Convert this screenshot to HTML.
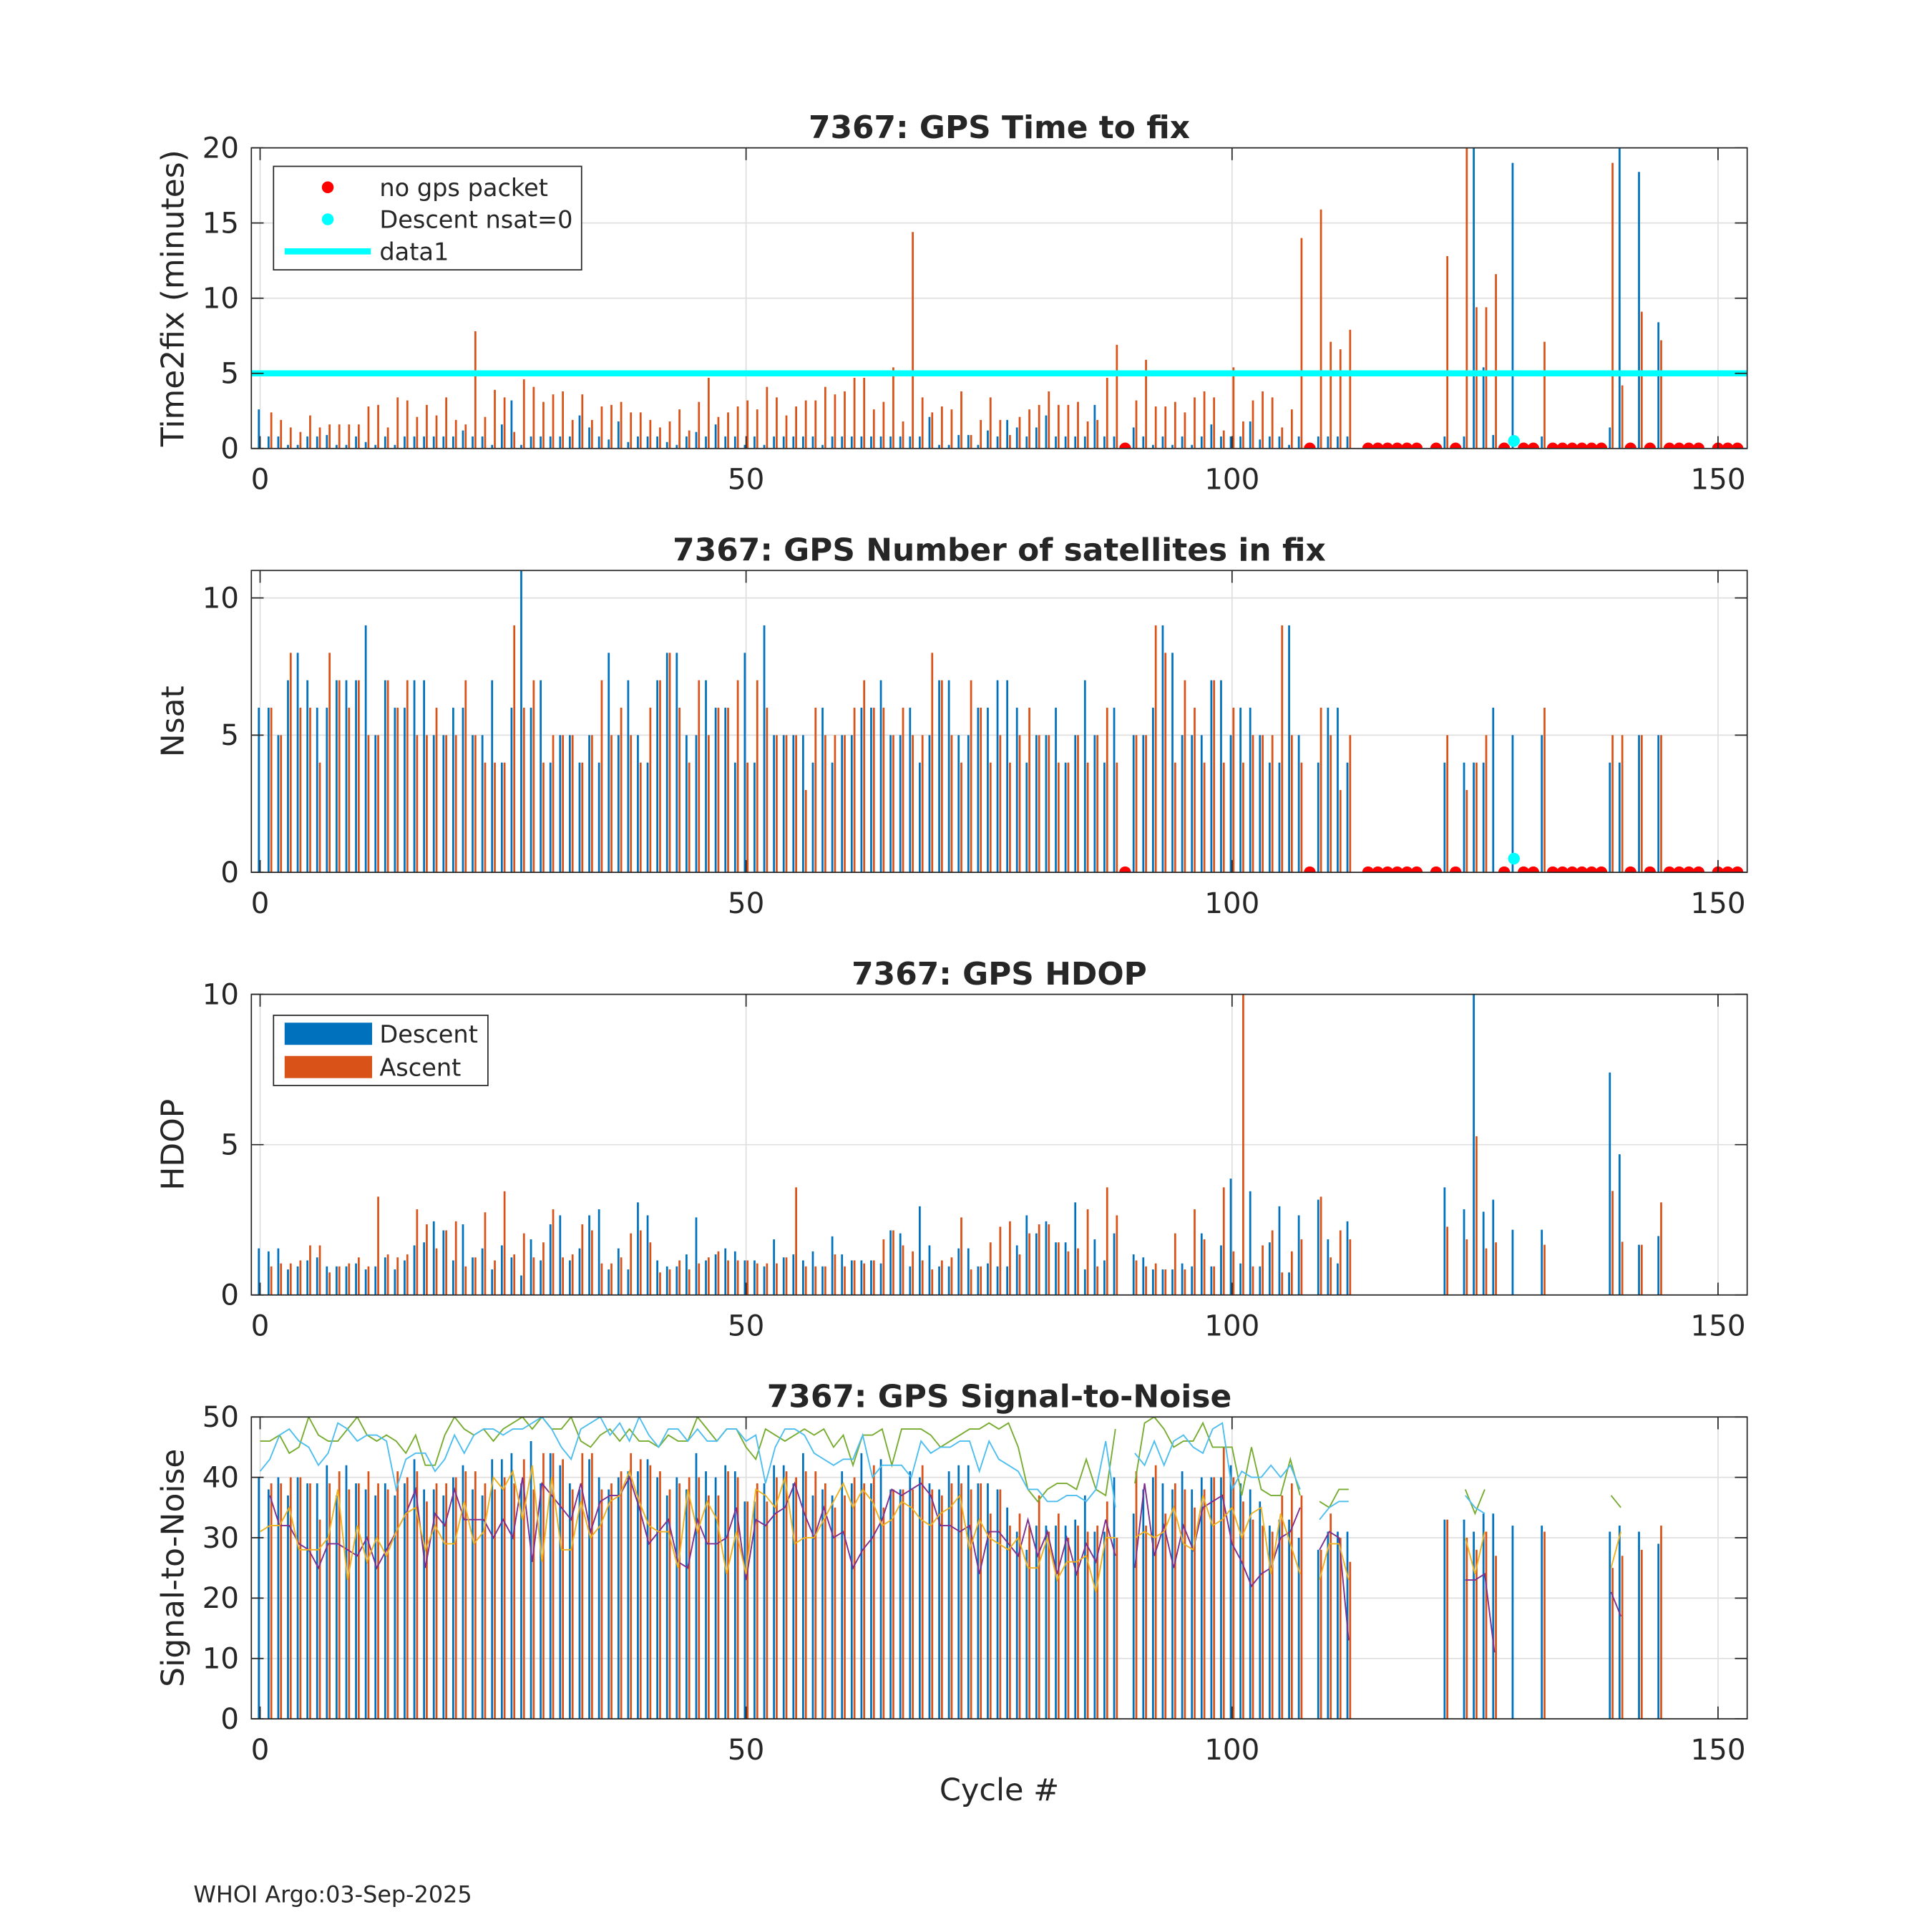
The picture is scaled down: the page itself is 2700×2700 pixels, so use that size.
<!DOCTYPE html>
<html><head><meta charset="utf-8"><style>
html,body{margin:0;padding:0;background:#fff}
svg{display:block}
text{font-family:"DejaVu Sans","Liberation Sans",sans-serif;fill:#262626}
</style></head><body>
<svg id="fig" xmlns="http://www.w3.org/2000/svg" width="2700" height="2700" viewBox="0 0 1568 1568">
<rect x="0" y="0" width="1568" height="1568" fill="#fff"/>
<text x="157" y="1544" font-size="18.5">WHOI Argo:03-Sep-2025</text>
<text x="811" y="1461" font-size="25" text-anchor="middle">Cycle #</text>
</svg>
<script>
// ---- data (cycles 0..112, then tail cycles) ----
const mainCycles = 113;
const tailCycles = [122,124,125,126,127,129,132,139,140,142,144];
const noPacketCycles = [89,108,114,115,116,117,118,119,121,123,128,130,131,133,134,135,136,137,138,141,143,145,146,147,148,150,151,152];
const nsatZeroCycles = [129];

const timeDesc = [2.6,.8,.8,.24,.24,.8,.8,.9,.24,.24, .8,.43,.24,.8,.24,.8,.8,.8,.8,.8, .8,1.2,.8,.8,.24,1.6,3.2,.24,.8,.8, .8,.8,.8,2.2,1.4,.8,.6,1.8,.43,.8, .8,.8,.43,.24,.8,1.1,.8,1.6,.8,.8, .24,.8,.24,.8,.8,.8,.8,.8,.24,.8, .8,.8,.8,.8,.8,.8,.8,.8,.8,2.1, .24,.24,.9,.9,.24,1.2,.8,1.9,1.4,.8, 1.4,2.2,.8,.8,.8,.8,2.9,.8,.8,null, 1.4,.8,.24,.8,.24,.8,.24,.8,1.6,.8, .8,.8,1.8,.6,.8,.8,.24,.8,null,.8, .8,.8,.8];
const timeDescTail = [.8,.8,20.5,5.4,.9,19,.8,1.4,20.5,18.4,8.4];
const timeAsc = [null,2.4,1.9,1.4,1.1,2.2,1.4,1.6,1.6,1.6, 1.6,2.8,2.9,1.4,3.4,3.2,2.1,2.9,2.2,3.4, 1.9,1.6,7.8,2.1,3.9,3.4,1.1,4.6,4.1,3.1, 3.6,3.8,1.9,3.6,1.9,2.8,2.9,3.1,2.4,2.4, 1.9,1.4,1.8,2.6,1.2,3.1,4.7,2.1,2.4,2.8, 3.2,2.6,4.1,3.4,2.2,2.8,3.2,3.2,4.1,3.6, 3.8,4.7,4.7,2.6,3.1,5.4,1.8,14.4,3.4,2.4, 2.8,2.6,3.8,.9,1.9,3.4,1.9,.9,2.1,2.6, 2.9,3.8,2.9,2.9,3.1,1.8,1.9,4.7,6.9,null, 3.2,5.9,2.8,2.8,3.1,2.4,3.4,3.8,3.4,1.2, 5.4,1.8,3.2,3.8,3.4,1.4,2.6,14,null,15.9, 7.1,6.6,7.9];
const timeAscTail = [12.8,20.5,9.4,9.4,11.6,null,7.1,19,4.2,9.1,7.2];

const nsatDesc = [6,6,5,7,8,7,6,6,7,7, 7,9,5,7,6,6,7,7,5,5, 6,6,5,5,7,4,6,11,6,7, 4,5,5,4,5,4,8,5,7,5, 4,7,8,8,5,5,7,6,6,4, 8,4,9,5,5,5,5,4,6,4, 5,5,6,6,7,5,5,6,4,5, 7,7,5,5,6,6,7,7,6,4, 5,5,6,4,5,7,5,4,6,null, 5,5,6,9,8,5,5,5,7,7, 5,6,6,5,4,4,9,5,null,4, 6,6,4];
const nsatDescTail = [4,4,4,4,6,5,5,4,4,5,5];
const nsatAsc = [null,6,5,8,6,6,4,8,7,6, 7,5,5,7,6,7,5,5,6,5, 5,7,5,4,4,4,9,6,7,4, 5,5,5,4,5,7,5,6,5,4, 6,7,8,6,4,7,5,6,6,7, 4,7,6,5,5,5,3,6,5,5, 5,6,7,6,6,5,6,5,5,8, 7,5,4,7,6,4,5,4,5,6, 5,5,4,4,5,4,5,6,4,null, 5,5,9,8,4,7,6,4,7,4, 6,4,5,5,5,9,5,4,null,6, 5,3,5];
const nsatAscTail = [5,3,4,5,null,null,6,5,5,5,5];

const hdopDesc = [1.55,1.45,1.55,.85,.95,1.15,1.25,.95,.95,.95, 1.05,.85,.95,1.25,.85,1.15,1.65,1.75,2.45,2.15, 1.15,2.35,1.25,1.55,.85,1.65,1.25,.65,1.85,1.15, 2.35,2.65,1.15,1.55,2.65,2.85,.85,1.55,.85,3.08, 2.65,1.15,.95,.95,1.35,2.58,1.15,1.35,1.55,1.45, 1.15,1.15,.95,1.85,1.25,1.35,1.15,1.45,.95,1.95, 1.35,1.15,1.15,1.15,1.05,2.15,2.05,.95,2.95,1.65, .95,.95,1.55,1.55,.95,1.05,.95,.95,1.65,2.65, 2.05,2.45,1.75,1.75,3.08,.85,1.85,1.15,2.05,null, 1.35,1.25,.85,.85,.85,1.05,.95,2.05,.95,1.65, 3.87,1.05,3.45,.95,1.75,2.95,.75,2.65,null,3.17, 1.85,1.05,2.45];
const hdopDescTail = [3.58,2.85,10.5,2.77,3.17,2.17,2.17,7.4,4.68,1.67,1.96];
const hdopAsc = [null,.95,1.05,1.05,1.15,1.65,1.65,.75,.95,1.05, 1.25,.95,3.27,1.35,1.25,1.35,2.85,2.35,1.55,2.15, 2.45,.95,1.25,2.75,1.15,3.45,1.35,2.05,1.25,1.75, 2.85,1.25,1.35,2.35,2.15,1.05,1.05,1.25,2.05,2.15, 1.75,.75,.85,1.15,.85,1.05,1.25,1.45,1.15,1.15, 1.15,1.05,1.05,1.05,1.25,3.58,.95,.95,.95,1.35, .95,1.15,1.05,1.15,1.85,2.15,1.65,1.45,1.15,.85, 1.15,1.25,2.58,.85,.95,1.75,2.27,2.45,1.35,2.05, 2.35,2.35,1.75,1.45,1.55,2.85,.95,3.58,2.65,null, 1.15,.95,1.05,.85,2.05,.85,2.85,1.85,.95,3.58, 1.45,10.5,.95,1.65,2.15,.75,1.45,1.85,null,3.27, 1.25,2.15,1.85];
const hdopAscTail = [2.27,1.85,5.28,1.55,1.75,null,1.67,3.46,1.77,1.67,3.08];

const snrDesc = [40,38,40,37,40,39,39,42,37,42, 39,38,37,39,37,39,43,38,38,37, 40,42,38,37,43,43,44,39,46,39, 44,42,39,38,43,40,38,40,41,41, 43,40,37,40,38,44,41,40,42,41, 36,36,39,42,42,39,44,37,38,37, 41,39,44,39,43,38,38,41,40,39, 38,41,42,42,39,39,38,35,31,28, 32,32,32,32,33,37,31,31,40,null, 34,38,40,39,38,41,38,40,40,40, 42,39,38,36,32,33,33,30,null,28, 31,31,31];
const snrDescTail = [33,33,31,34,34,32,32,31,32,31,29];
const snrAsc = [null,39,39,40,40,39,33,39,41,38, 39,41,39,38,41,40,41,36,39,39, 40,41,41,39,38,40,39,43,38,44, 44,43,38,44,44,38,39,41,44,43, 42,41,38,39,40,40,37,37,41,40, 36,39,36,40,41,40,41,41,39,35, 37,40,39,42,35,38,38,38,42,38, 37,39,39,38,39,34,38,32,34,32, 37,31,34,30,32,31,32,36,30,null, 41,32,42,34,39,38,35,38,40,45, 40,36,33,32,31,37,39,37,null,28, 34,30,26];
const snrAscTail = [33,30,28,31,27,null,31,25,27,28,32];

const snrGreen = [46,46,47,44,45,50,47,46,46,48, 50,47,46,47,46,44,47,42,42,47, 50,48,47,48,46,48,49,50,48,50, 48,48,50,46,45,47,48,46,48,46, 46,45,47,46,46,50,48,46,48,48, 45,43,48,47,46,47,48,47,48,45, 47,42,47,47,48,42,48,48,48,47, 45,46,47,48,48,49,48,49,45,38, 36,38,39,39,38,43,38,37,48,null, 39,49,50,48,45,46,46,49,45,45, 45,37,45,38,37,37,43,37,null,36, 35,38,38];
const snrGreenTail = [null,38,34,38,null,null,null,37,35,null,null];
const snrCyan = [41,43,47,48,46,45,42,44,49,48, 46,47,47,46,38,43,44,44,41,43, 47,44,47,48,48,47,48,48,49,50, 48,45,43,48,49,50,47,49,46,50, 47,45,48,48,46,48,46,46,48,48, 46,47,39,45,48,48,47,44,43,42, 43,43,47,40,42,42,42,40,46,44, 45,45,46,46,41,46,43,42,41,38, 38,36,36,37,37,36,38,46,35,null, 44,42,46,42,46,47,45,44,48,49, 38,41,40,40,42,40,42,38,null,33, 35,36,36];
const snrCyanTail = [null,37,35,34,null,null,null,33,null,null,null];
const snrPurple = [null,37,32,32,29,28,25,29,29,28, 27,30,25,28,31,34,38,25,34,32, 38,33,33,33,30,33,30,40,26,39, 37,35,33,39,31,36,37,37,40,35, 29,31,33,26,25,33,29,29,30,35, 23,33,32,34,35,39,34,30,35,30, 31,25,28,30,33,38,37,38,39,37, 32,32,31,32,24,31,31,29,27,33, 27,31,24,30,24,29,26,33,27,null, 25,39,27,32,25,32,28,35,36,37, 29,26,22,24,25,30,31,35,null,28, 31,30,13];
const snrPurpleTail = [null,23,23,24,11,null,null,21,17,null,null];
const snrYellow = [31,32,32,35,28,28,28,30,38,23, 32,26,30,27,31,34,35,28,32,29, 29,36,29,31,40,38,41,33,42,26, 40,28,28,36,30,32,36,37,41,36, 32,31,31,25,38,31,36,33,24,31, 24,38,37,35,40,29,30,30,33,36, 39,35,38,36,32,33,36,35,33,32, 34,35,37,28,33,30,29,28,30,25, 25,30,23,26,26,27,21,30,30,null, 30,31,30,31,35,29,28,37,32,33, 35,30,34,35,24,34,29,24,null,23, 29,29,23];
const snrYellowTail = [null,30,24,31,null,null,null,25,31,null,null];

const xTicks = [0,50,100,150];

// ---- helpers ----
const NS = "http://www.w3.org/2000/svg";
const svg = document.getElementById('fig');
const AX_L = 204, AX_R = 1418, XMIN = -0.9, XMAX = 153;
function X(c){ return AX_L + (c - XMIN) / (XMAX - XMIN) * (AX_R - AX_L); }
function mk(tag, attrs, parent){ const e = document.createElementNS(NS, tag); for (const k in attrs) e.setAttribute(k, attrs[k]); (parent||svg).appendChild(e); return e; }
function full(main, tail){ const a = new Array(153).fill(null); main.forEach((v,i)=>{ a[i]=v; }); tailCycles.forEach((c,i)=>{ a[c]=tail[i]; }); return a; }

const BLUE = "#0072BD", ORANGE = "#D95319";

function panel(p){
  const g = mk('g', {});
  
  
  const Y = v => p.bottom - (v - 0) / (p.ymax) * (p.bottom - p.top);
  const clipId = p.name + '-clip';
  const cp = mk('clipPath', {id: clipId}, g);
  mk('rect', {x: AX_L, y: p.top, width: AX_R-AX_L, height: p.bottom-p.top}, cp);
  xTicks.forEach(t => { const l = mk('line', {x1:X(t), x2:X(t), y1:p.top, y2:p.bottom, stroke:'#dfdfdf', 'stroke-width':1}, g);
      });
  p.yticks.forEach(t => { const l = mk('line', {x1:AX_L, x2:AX_R, y1:Y(t), y2:Y(t), stroke:'#dfdfdf', 'stroke-width':1}, g);
      });
  const plot = mk('g', {'clip-path': 'url(#' + clipId + ')'}, g);
  const bw = 1.6;
  [[p.desc, -0.13, BLUE, 'bar-descent'], [p.asc, 0.15, ORANGE, 'bar-ascent']].forEach(([arr, off, col, nm]) => {
    arr.forEach((v, c) => {
      if (v === null || v === undefined || v <= 0) return;
      const r = mk('rect', {x: X(c+off)-bw/2, y: Y(v), width: bw, height: Y(0)-Y(v), fill: col}, plot);
      
      
    });
  });
  if (p.extra) p.extra(plot, Y);
  const box = mk('rect', {x: AX_L, y: p.top, width: AX_R-AX_L, height: p.bottom-p.top, fill: 'none', stroke: '#262626', 'stroke-width': 1}, g);
  
  
  xTicks.forEach(t => {
    mk('line', {x1:X(t), x2:X(t), y1:p.bottom, y2:p.bottom-10, stroke:'#262626'}, g);
    mk('line', {x1:X(t), x2:X(t), y1:p.top, y2:p.top+10, stroke:'#262626'}, g);
    const tx = mk('text', {x: X(t), y: p.bottom + 33, 'font-size': 23.5, 'text-anchor': 'middle'}, g);
    tx.textContent = String(t);
    
    
  });
  p.yticks.forEach(t => {
    mk('line', {x1:AX_L, x2:AX_L+10, y1:Y(t), y2:Y(t), stroke:'#262626'}, g);
    mk('line', {x1:AX_R, x2:AX_R-10, y1:Y(t), y2:Y(t), stroke:'#262626'}, g);
    const tx = mk('text', {x: AX_L - 10, y: Y(t) + 8, 'font-size': 23.5, 'text-anchor': 'end'}, g);
    tx.textContent = String(t);
    
    
  });
  const tt = mk('text', {x: 811, y: p.top - 8, 'font-size': 25.5, 'font-weight': 'bold', 'text-anchor': 'middle'}, g);
  tt.textContent = p.title;
  
  
  const yl = mk('text', {x: 0, y: 0, 'font-size': 25.5, 'text-anchor': 'middle', transform: 'translate(149,' + ((p.top+p.bottom)/2) + ') rotate(-90)'}, g);
  yl.textContent = p.ylabel;
  
  
  return {g, Y};
}

function dots(plot, Y, cycles, val, col, nm){
  cycles.forEach(c => {
    const d = mk('circle', {cx: X(c), cy: Y(val), r: 4.8, fill: col}, plot);
    
    
  });
}

panel({name:'time-to-fix-panel', top:120, bottom:364, ymax:20, yticks:[0,5,10,15,20],
  title:'7367: GPS Time to fix', ylabel:'Time2fix (minutes)',
  desc: full(timeDesc, timeDescTail), asc: full(timeAsc, timeAscTail),
  extra: (plot, Y) => {
    const l = mk('line', {x1:AX_L, x2:AX_R, y1:Y(5), y2:Y(5), stroke:'#00FFFF', 'stroke-width':5}, plot);
    
    
    dots(plot, Y, noPacketCycles, 0, '#FF0000', 'no-gps-packet-marker');
    dots(plot, Y, nsatZeroCycles, 0.5, '#00FFFF', 'descent-nsat0-marker');
  }});
(function(){
  const g = mk('g', {});
  
  
  mk('rect', {x:222, y:135, width:250, height:84, fill:'#fff', stroke:'#262626', 'stroke-width':1}, g);
  mk('circle', {cx:266, cy:152, r:4.8, fill:'#FF0000'}, g);
  mk('circle', {cx:266, cy:178, r:4.8, fill:'#00FFFF'}, g);
  mk('line', {x1:231, x2:301, y1:204, y2:204, stroke:'#00FFFF', 'stroke-width':5}, g);
  [['no gps packet',159,'legend-entry-no-gps'],['Descent nsat=0',185,'legend-entry-nsat0'],['data1',211,'legend-entry-data1']].forEach(([t,y,n])=>{
    const tx = mk('text', {x:308, y:y, 'font-size':19.5}, g); tx.textContent = t;
    
    
  });
})();

panel({name:'nsat-panel', top:463, bottom:708, ymax:11, yticks:[0,5,10],
  title:'7367: GPS Number of satellites in fix', ylabel:'Nsat',
  desc: full(nsatDesc, nsatDescTail), asc: full(nsatAsc, nsatAscTail),
  extra: (plot, Y) => {
    dots(plot, Y, noPacketCycles, 0, '#FF0000', 'no-gps-packet-marker');
    dots(plot, Y, nsatZeroCycles, 0.5, '#00FFFF', 'descent-nsat0-marker');
  }});

panel({name:'hdop-panel', top:807, bottom:1051, ymax:10, yticks:[0,5,10],
  title:'7367: GPS HDOP', ylabel:'HDOP',
  desc: full(hdopDesc, hdopDescTail), asc: full(hdopAsc, hdopAscTail)});
(function(){
  const g = mk('g', {});
  
  
  mk('rect', {x:222, y:824, width:174, height:57, fill:'#fff', stroke:'#262626', 'stroke-width':1}, g);
  mk('rect', {x:231, y:830, width:71, height:18, fill:BLUE}, g);
  mk('rect', {x:231, y:857, width:71, height:18, fill:ORANGE}, g);
  [['Descent',846,'legend-entry-descent'],['Ascent',873,'legend-entry-ascent']].forEach(([t,y,n])=>{
    const tx = mk('text', {x:308, y:y, 'font-size':19.5}, g); tx.textContent = t;
    
    
  });
})();

panel({name:'snr-panel', top:1150, bottom:1395, ymax:50, yticks:[0,10,20,30,40,50],
  title:'7367: GPS Signal-to-Noise', ylabel:'Signal-to-Noise',
  desc: full(snrDesc, snrDescTail), asc: full(snrAsc, snrAscTail),
  extra: (plot, Y) => {
    [[full(snrGreen, snrGreenTail), '#77AC30', 'snr-line-green'],
     [full(snrCyan, snrCyanTail), '#4DBEEE', 'snr-line-cyan'],
     [full(snrPurple, snrPurpleTail), '#7E2F8E', 'snr-line-purple'],
     [full(snrYellow, snrYellowTail), '#EDB120', 'snr-line-yellow']].forEach(([arr, col, nm]) => {
      let d = '', pen = false;
      arr.forEach((v, c) => {
        if (v === null) { pen = false; return; }
        d += (pen ? 'L' : 'M') + X(c).toFixed(2) + ' ' + Y(v).toFixed(2) + ' ';
        pen = true;
      });
      const path = mk('path', {d: d, fill: 'none', stroke: col, 'stroke-width': 1.1}, plot);
      
      
    });
  }});
</script>
</body></html>
